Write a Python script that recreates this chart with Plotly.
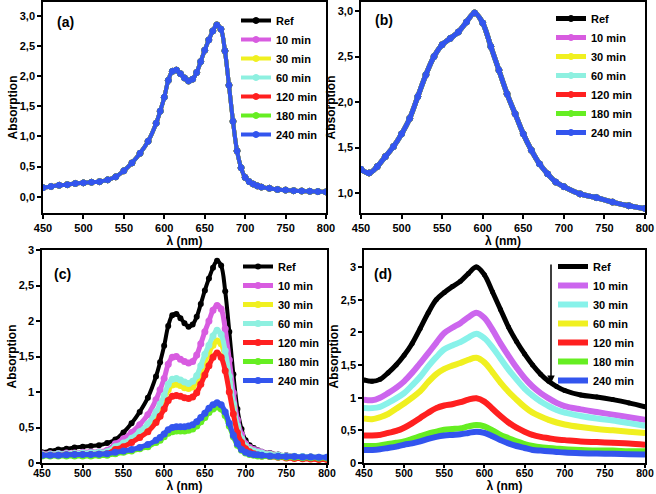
import plotly.graph_objects as go

series_names = ["Ref", "10 min", "30 min", "60 min", "120 min", "180 min", "240 min"]
colors_abc = ["#000000", "#d85ce0", "#f0f020", "#8ef0e0", "#ff2020", "#66ee22", "#3355ee"]
colors_d = ["#000000", "#cc66ee", "#88f2ea", "#f0f020", "#ff2020", "#66ee22", "#3355ee"]

# ---- panels (a) and (c): wavelength grid ----
wl_ac = [450, 460, 470, 480, 490, 500, 510, 520, 530, 540, 550, 560, 570, 580, 590, 595,
         600, 605, 610, 615, 620, 625, 630, 635, 640, 645, 650, 655, 660, 665, 670, 675,
         680, 685, 690, 695, 700, 705, 710, 715, 720, 730, 740, 750, 760, 770, 780, 790, 800]

# panel (a): all seven series coincide
a_abs = [0.15, 0.17, 0.19, 0.20, 0.22, 0.23, 0.24, 0.25, 0.28, 0.33, 0.43, 0.56, 0.72, 0.92, 1.22, 1.42,
         1.65, 1.93, 2.08, 2.10, 2.04, 1.97, 1.92, 1.95, 2.06, 2.24, 2.43, 2.60, 2.75, 2.85, 2.78, 2.42,
         1.85, 1.25, 0.76, 0.48, 0.32, 0.25, 0.21, 0.18, 0.16, 0.14, 0.12, 0.11, 0.10, 0.095, 0.09, 0.085, 0.08]

# panel (c)
c_ref = a_abs
c_10 = [0.13, 0.13, 0.135, 0.14, 0.14, 0.15, 0.155, 0.16, 0.18, 0.27, 0.34, 0.43, 0.54, 0.68, 0.89, 1.03,
        1.19, 1.39, 1.49, 1.50, 1.46, 1.43, 1.41, 1.43, 1.52, 1.68, 1.85, 2.00, 2.15, 2.22, 2.17, 1.89,
        1.45, 0.99, 0.61, 0.40, 0.27, 0.22, 0.19, 0.17, 0.15, 0.13, 0.11, 0.10, 0.09, 0.08, 0.075, 0.07, 0.065]
c_30 = [0.12, 0.12, 0.12, 0.125, 0.13, 0.13, 0.135, 0.14, 0.15, 0.22, 0.27, 0.33, 0.42, 0.52, 0.67, 0.77,
        0.89, 1.03, 1.10, 1.11, 1.09, 1.06, 1.05, 1.07, 1.14, 1.28, 1.42, 1.55, 1.66, 1.72, 1.68, 1.47,
        1.13, 0.78, 0.49, 0.32, 0.23, 0.19, 0.16, 0.14, 0.13, 0.12, 0.10, 0.09, 0.085, 0.08, 0.075, 0.07, 0.065]
c_60 = [0.12, 0.125, 0.13, 0.13, 0.135, 0.14, 0.145, 0.15, 0.16, 0.23, 0.28, 0.35, 0.44, 0.55, 0.72, 0.83,
        0.95, 1.11, 1.18, 1.19, 1.17, 1.14, 1.12, 1.15, 1.23, 1.37, 1.53, 1.66, 1.79, 1.87, 1.81, 1.58,
        1.22, 0.83, 0.52, 0.34, 0.24, 0.19, 0.17, 0.15, 0.14, 0.12, 0.11, 0.10, 0.095, 0.09, 0.085, 0.08, 0.08]
c_120 = [0.11, 0.11, 0.11, 0.115, 0.12, 0.12, 0.12, 0.125, 0.13, 0.19, 0.23, 0.29, 0.36, 0.44, 0.57, 0.66,
         0.76, 0.88, 0.94, 0.95, 0.94, 0.92, 0.91, 0.93, 0.99, 1.11, 1.24, 1.37, 1.49, 1.55, 1.49, 1.30,
         1.00, 0.69, 0.43, 0.29, 0.20, 0.16, 0.13, 0.11, 0.10, 0.09, 0.08, 0.07, 0.065, 0.06, 0.055, 0.05, 0.05]
c_180 = [0.10, 0.10, 0.10, 0.10, 0.10, 0.10, 0.10, 0.105, 0.11, 0.13, 0.15, 0.17, 0.20, 0.23, 0.29, 0.32,
         0.37, 0.42, 0.44, 0.45, 0.45, 0.45, 0.46, 0.48, 0.52, 0.58, 0.64, 0.71, 0.76, 0.79, 0.76, 0.67,
         0.52, 0.37, 0.25, 0.18, 0.14, 0.12, 0.11, 0.10, 0.095, 0.09, 0.085, 0.08, 0.08, 0.075, 0.075, 0.07, 0.07]
c_240 = [0.11, 0.11, 0.11, 0.115, 0.12, 0.12, 0.12, 0.125, 0.13, 0.15, 0.17, 0.19, 0.22, 0.26, 0.32, 0.36,
         0.41, 0.47, 0.50, 0.51, 0.51, 0.51, 0.52, 0.54, 0.58, 0.64, 0.70, 0.77, 0.82, 0.85, 0.82, 0.72,
         0.56, 0.39, 0.27, 0.19, 0.15, 0.13, 0.12, 0.115, 0.11, 0.10, 0.095, 0.09, 0.09, 0.085, 0.085, 0.08, 0.08]
c_series = [c_ref, c_10, c_30, c_60, c_120, c_180, c_240]

# ---- panels (b) and (d): wavelength grid ----
wl_bd = [450, 460, 470, 480, 490, 500, 510, 520, 530, 540, 550, 560, 570, 580, 590, 600,
         610, 620, 630, 640, 650, 660, 670, 680, 690, 700, 720, 740, 760, 780, 800]

# panel (b): all seven series coincide
b_abs = [1.26, 1.22, 1.29, 1.40, 1.51, 1.65, 1.82, 2.06, 2.30, 2.50, 2.63, 2.70, 2.77, 2.88, 2.98, 2.87,
         2.61, 2.35, 2.09, 1.87, 1.65, 1.47, 1.32, 1.21, 1.12, 1.07, 0.99, 0.95, 0.90, 0.86, 0.83]

# panel (d)
d_ref = [1.27, 1.25, 1.28, 1.38, 1.50, 1.65, 1.83, 2.06, 2.30, 2.50, 2.61, 2.70, 2.78, 2.90, 3.00, 2.88,
         2.62, 2.35, 2.08, 1.86, 1.67, 1.50, 1.36, 1.25, 1.17, 1.11, 1.04, 1.01, 0.97, 0.92, 0.86]
d_10 = [0.97, 0.96, 1.00, 1.07, 1.15, 1.25, 1.38, 1.53, 1.68, 1.84, 1.99, 2.07, 2.14, 2.23, 2.30, 2.22,
        2.04, 1.83, 1.64, 1.46, 1.30, 1.17, 1.07, 0.99, 0.92, 0.87, 0.82, 0.78, 0.74, 0.70, 0.66]
d_30 = [0.84, 0.84, 0.86, 0.92, 0.99, 1.07, 1.19, 1.32, 1.48, 1.62, 1.74, 1.80, 1.85, 1.92, 1.98, 1.91,
        1.77, 1.60, 1.43, 1.28, 1.14, 1.03, 0.94, 0.87, 0.81, 0.77, 0.72, 0.68, 0.65, 0.61, 0.57]
d_60 = [0.68, 0.67, 0.70, 0.75, 0.83, 0.91, 1.00, 1.10, 1.24, 1.36, 1.44, 1.49, 1.53, 1.58, 1.61, 1.54,
        1.39, 1.23, 1.09, 0.97, 0.86, 0.77, 0.71, 0.66, 0.62, 0.59, 0.55, 0.52, 0.50, 0.48, 0.46]
d_120 = [0.42, 0.42, 0.43, 0.46, 0.49, 0.54, 0.61, 0.69, 0.77, 0.84, 0.88, 0.90, 0.93, 0.97, 0.99, 0.94,
         0.83, 0.72, 0.62, 0.54, 0.48, 0.43, 0.40, 0.38, 0.36, 0.35, 0.33, 0.32, 0.31, 0.30, 0.28]
d_180 = [0.26, 0.26, 0.27, 0.29, 0.31, 0.33, 0.37, 0.41, 0.45, 0.48, 0.51, 0.52, 0.53, 0.56, 0.58, 0.56,
         0.50, 0.43, 0.38, 0.33, 0.29, 0.26, 0.24, 0.23, 0.22, 0.21, 0.20, 0.19, 0.19, 0.18, 0.18]
d_240 = [0.20, 0.20, 0.21, 0.23, 0.25, 0.28, 0.30, 0.33, 0.37, 0.40, 0.42, 0.43, 0.44, 0.46, 0.48, 0.46,
         0.41, 0.35, 0.30, 0.26, 0.23, 0.20, 0.19, 0.18, 0.17, 0.16, 0.15, 0.145, 0.14, 0.135, 0.13]
d_series = [d_ref, d_10, d_30, d_60, d_120, d_180, d_240]

x_ticks = [450, 500, 550, 600, 650, 700, 750, 800]
a_yticks = [0.0, 0.5, 1.0, 1.5, 2.0, 2.5, 3.0]
a_yticktext = ["0,0", "0,5", "1,0", "1,5", "2,0", "2,5", "3,0"]
b_yticks = [1.0, 1.5, 2.0, 2.5, 3.0]
b_yticktext = ["1,0", "1,5", "2,0", "2,5", "3,0"]
cd_yticks = [0, 0.5, 1, 1.5, 2, 2.5, 3]
cd_yticktext = ["0", "0,5", "1", "1,5", "2", "2,5", "3"]

FONT = "Liberation Sans, Arial, sans-serif"
fig = go.Figure()

# (a)
for i, name in enumerate(series_names):
    fig.add_trace(go.Scatter(
        x=wl_ac, y=a_abs, name=name, mode="lines+markers", line_shape="spline",
        line=dict(color=colors_abc[i], width=4),
        marker=dict(color=colors_abc[i], size=6, line=dict(color=colors_abc[i], width=1)),
        xaxis="x", yaxis="y", legend="legend"))
# (b)
for i, name in enumerate(series_names):
    fig.add_trace(go.Scatter(
        x=wl_bd, y=b_abs, name=name, mode="lines+markers", line_shape="spline",
        line=dict(color=colors_abc[i], width=5),
        marker=dict(color=colors_abc[i], size=6, line=dict(color=colors_abc[i], width=1)),
        xaxis="x2", yaxis="y2", legend="legend2"))
# (c)
for i, name in enumerate(series_names):
    fig.add_trace(go.Scatter(
        x=wl_ac, y=c_series[i], name=name, mode="lines+markers", line_shape="spline",
        line=dict(color=colors_abc[i], width=4 if i == 0 else 5),
        marker=dict(color=colors_abc[i], size=6 if i == 0 else 7),
        xaxis="x3", yaxis="y3", legend="legend3"))
# (d)
for i, name in enumerate(series_names):
    fig.add_trace(go.Scatter(
        x=wl_bd, y=d_series[i], name=name, mode="lines+markers", line_shape="spline",
        line=dict(color=colors_d[i], width=6 if i else 5),
        marker=dict(color=colors_d[i], size=5),
        xaxis="x4", yaxis="y4", legend="legend4"))

W, H = 656, 494

def px_x(p):
    return p / W

def px_y(p):
    return 1 - p / H

tickfont = dict(family=FONT, size=11, color="black", weight="bold")
titlefont = dict(family=FONT, size=12, color="black", weight="bold")

def xax(left, right, anchor, bottom_row=False):
    return dict(domain=[px_x(left), px_x(right)], range=[450, 800], anchor=anchor,
                tickvals=x_ticks, ticktext=[str(v) for v in x_ticks],
                ticks="outside", ticklen=4 if not bottom_row else 3, tickwidth=1.5, tickcolor="black",
                ticklabelstandoff=-3 if bottom_row else 0,
                showline=True, linecolor="black", linewidth=1.5, mirror=True,
                showgrid=False, zeroline=False,
                tickfont=tickfont if not bottom_row else dict(tickfont, size=10.5),
                automargin=False,
                title=dict(text="λ (nm)", font=titlefont, standoff=0))

def yax(bottom, top, rng, tv, tt, anchor):
    return dict(domain=[px_y(bottom), px_y(top)], range=rng, anchor=anchor,
                tickvals=tv, ticktext=tt,
                ticks="outside", ticklen=4, tickwidth=1.5, tickcolor="black",
                showline=True, linecolor="black", linewidth=1.5, mirror=True,
                showgrid=False, zeroline=False, tickfont=tickfont, automargin=False,
                title=dict(text="Absorption", font=titlefont, standoff=0))

legfont = dict(family=FONT, size=11, color="black", weight="bold")

def leg(xp, yp):
    return dict(x=px_x(xp), y=px_y(yp), xanchor="left", yanchor="top",
                bgcolor="rgba(0,0,0,0)", font=legfont, itemwidth=30,
                tracegroupgap=0)

fig.update_layout(
    width=W, height=H, margin=dict(l=0, r=0, t=0, b=0, pad=0, autoexpand=False),
    plot_bgcolor="white", paper_bgcolor="white", showlegend=True,
    xaxis=xax(43, 326, "y"),
    yaxis=yax(213, 2, [-0.27, 3.23], a_yticks, a_yticktext, "x"),
    xaxis2=xax(361, 645, "y2"),
    yaxis2=yax(213, 2, [0.78, 3.10], b_yticks, b_yticktext, "x2"),
    xaxis3=xax(42, 327, "y3", True),
    yaxis3=yax(463, 250, [0, 3.0], cd_yticks, cd_yticktext, "x3"),
    xaxis4=xax(364, 645, "y4", True),
    yaxis4=yax(463, 250, [0, 3.26], cd_yticks, cd_yticktext, "x4"),
    legend=leg(236, 6),
    legend2=leg(551, 4),
    legend3=leg(238, 252),
    legend4=leg(553, 252),
)

panel_font = dict(family=FONT, size=14, color="black", weight="bold")
for label, xp, yp in [("(a)", 65, 22), ("(b)", 384, 20), ("(c)", 62, 274), ("(d)", 383, 274)]:
    fig.add_annotation(text=label, x=px_x(xp), y=px_y(yp), xref="paper", yref="paper",
                       showarrow=False, font=panel_font, xanchor="center", yanchor="middle")

# downward arrow next to legend (d)
fig.add_annotation(x=px_x(551), y=px_y(383), ax=0, ay=-120,
                   xref="paper", yref="paper", axref="pixel", ayref="pixel",
                   text="", showarrow=True, arrowhead=2, arrowsize=1, arrowwidth=1.5,
                   arrowcolor="black")

# remove the browser's default 8 px page margin so the figure fills the window
fig.write_html("out.html", config={"displayModeBar": False},
               post_script="document.body.style.margin='0';")
